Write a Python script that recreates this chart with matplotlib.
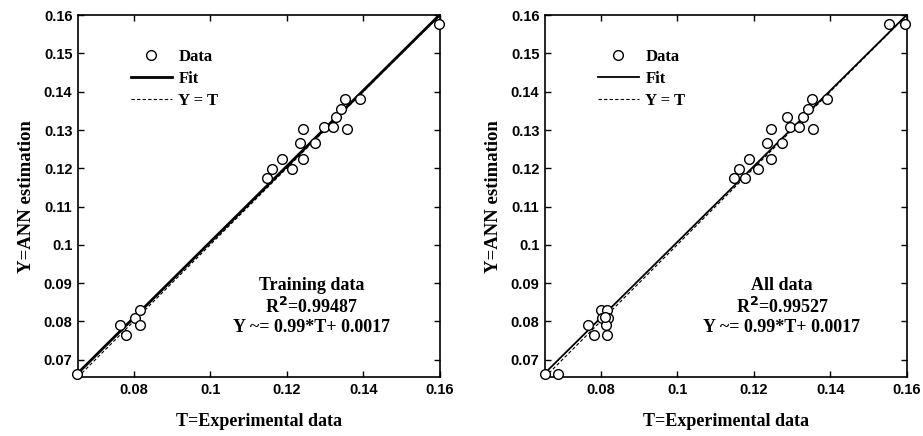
import matplotlib.pyplot as plt
import numpy as np

# training data (T, Y)
train_t = [0.0652, 0.0765, 0.0780, 0.0803, 0.0817, 0.0816,
           0.1148, 0.1162, 0.1188, 0.1213, 0.1234, 0.1243, 0.1243, 0.1275,
           0.1297, 0.1320, 0.1330, 0.1343, 0.1352, 0.1357, 0.1392, 0.1598]
train_y = [0.0662, 0.0790, 0.0765, 0.0810, 0.0829, 0.0790,
           0.1174, 0.1197, 0.1225, 0.1197, 0.1267, 0.1302, 0.1225, 0.1267,
           0.1307, 0.1307, 0.1335, 0.1354, 0.1380, 0.1302, 0.1380, 0.1577]

# all data (T, Y)
all_t = [0.0656, 0.0688, 0.0768, 0.0784, 0.0800, 0.0804, 0.0816, 0.0819,
         0.0814, 0.0818, 0.0811,
         0.1149, 0.1162, 0.1176, 0.1187, 0.1212, 0.1234, 0.1244, 0.1244,
         0.1274, 0.1288, 0.1296, 0.1319, 0.1330, 0.1343, 0.1352, 0.1354,
         0.1391, 0.1554, 0.1595]
all_y = [0.0662, 0.0662, 0.0790, 0.0765, 0.0829, 0.0810, 0.0829, 0.0810,
         0.0790, 0.0765, 0.0812,
         0.1174, 0.1197, 0.1174, 0.1225, 0.1197, 0.1267, 0.1302, 0.1225,
         0.1267, 0.1335, 0.1307, 0.1307, 0.1335, 0.1354, 0.1380, 0.1302,
         0.1380, 0.1577, 0.1577]

fit_slope = 0.99
fit_icpt = 0.0017
lim = (0.0655, 0.16)

xticks = [0.08, 0.1, 0.12, 0.14, 0.16]
yticks = [0.07, 0.08, 0.09, 0.1, 0.11, 0.12, 0.13, 0.14, 0.15, 0.16]

serif = dict(family="Liberation Serif", fontweight="bold")
tick_font = dict(family="Liberation Sans", fontweight="bold", fontsize=10.5)

fig = plt.figure(figsize=(9.23, 4.36), dpi=100)
ax1 = fig.add_axes([0.0845, 0.1353, 0.392, 0.830])
ax2 = fig.add_axes([0.5905, 0.1353, 0.392, 0.830])

panels = [
    (ax1, train_t, train_y, "Training data", "0.99487", 2.0, 0.645),
    (ax2, all_t, all_y, "All data", "0.99527", 1.3, 0.655),
]

for ax, t, y, name, r2, fit_lw, tx in panels:
    line_x = np.array(lim)
    ax.plot(t, y, "o", markersize=7, markerfacecolor="white",
            markeredgecolor="black", markeredgewidth=1.0, label="Data",
            zorder=3, clip_on=False)
    ax.plot(line_x, fit_slope * line_x + fit_icpt, color="black",
            linewidth=fit_lw, label="Fit", zorder=2)
    ax.plot(line_x, line_x, color="black", linestyle="--", dashes=(3, 2),
            linewidth=0.8, label="Y = T", zorder=1)
    ax.set_xlim(lim)
    ax.set_ylim(lim)
    ax.set_xticks(xticks)
    ax.set_xticklabels([f"{v:g}" for v in xticks], **tick_font)
    ax.set_yticks(yticks)
    ax.set_yticklabels([f"{v:g}" for v in yticks], **tick_font)
    ax.tick_params(direction="in", top=True, right=True, length=4, width=1,
                   pad=4)
    for s in ax.spines.values():
        s.set_linewidth(1.2)
    ax.set_xlabel("T=Experimental data", fontsize=13, labelpad=12, **serif)
    ax.set_ylabel("Y=ANN estimation", fontsize=13.5, labelpad=6, **serif)
    ax.text(tx, 0.195, f"{name}\nR$^\\mathbf{{2}}$={r2}\nY ~= 0.99*T+ 0.0017",
            transform=ax.transAxes, ha="center", va="center", fontsize=13,
            linespacing=1.15, **serif)
    ax.legend(loc="upper left", bbox_to_anchor=(0.146, 0.907), frameon=False,
              prop=dict(family="Liberation Serif", weight="bold", size=12),
              handlelength=2.45, handletextpad=0.4, borderpad=0,
              borderaxespad=0, labelspacing=0.37)

fig.savefig("out.png", dpi=100)
